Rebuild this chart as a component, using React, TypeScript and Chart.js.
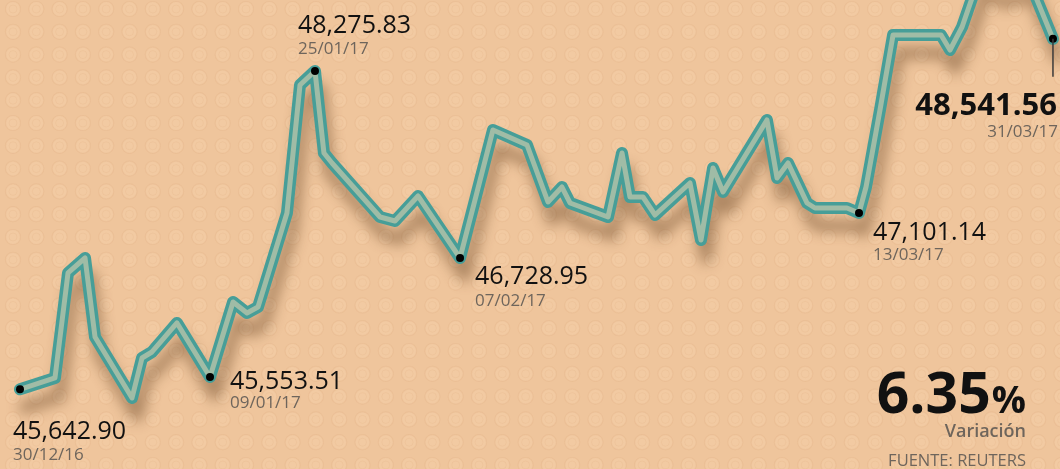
import React, { useEffect, useRef } from "react";
import { Chart, registerables } from "chart.js";

Chart.register(...registerables);

// Days since 30/12/16 and index level
const dayOffsets = [
  0, 3.08, 4.23, 5.73, 6.61, 9.87, 10.75, 11.63, 13.83, 16.74,
  18.77, 20.0, 20.97, 23.52, 24.67, 25.99, 26.78, 27.49, 31.72, 33.04,
  35.07, 38.77, 40.09, 41.67, 44.67, 46.52, 47.75, 48.46, 51.81, 53.04,
  53.74, 54.89, 55.95, 59.03, 60.0, 61.06, 61.94, 65.81, 66.7, 67.67,
  69.34, 70.04, 72.86, 73.92, 74.54, 75.77, 76.92, 81.15, 81.94, 83.0,
  84.58, 86.34, 88.81, 91.01,
];
const indexValues = [
  45642.9, 45736.3, 46604.9, 46728.9, 46075.4, 45570.9, 45901.7, 45951.4, 46191.3, 45744.6,
  46365.0, 46274.0, 46323.6, 47101.2, 48160.0, 48275.83, 47597.5, 47514.8, 47068.1, 47035.0,
  47241.8, 46728.95, 47208.7, 47787.8, 47663.7, 47192.2, 47316.2, 47183.9, 47068.1, 47597.5,
  47233.5, 47233.5, 47084.6, 47349.3, 46877.8, 47473.4, 47274.9, 47870.5, 47390.7, 47514.8,
  47183.9, 47142.5, 47142.5, 47101.14, 47316.2, 47953.2, 48573.6, 48573.6, 48449.5, 48639.8,
  49069.9, 48987.2, 49045.1, 48541.56,
];

// Annotated points
const labelIndices = [0, 9, 15, 21, 43, 53];
const labelValues = ["45,642.90", "45,553.51", "48,275.83", "46,728.95", "47,101.14", "48,541.56"];
const labelDates = ["30/12/16", "09/01/17", "25/01/17", "07/02/17", "13/03/17", "31/03/17"];
const variationValue = "6.35";
const variationUnit = "%";
const variationLabel = "Variación";
const sourceText = "FUENTE: REUTERS";

// Layout of annotation text relative to the point (dx, dyValue, dyDate, align, bold)
const labelLayout = [
  { dx: -7, dv: 50, dd: 71, align: "left", bold: false },
  { dx: 20, dv: 12, dd: 31, align: "left", bold: false },
  { dx: -17, dv: -38, dd: -17, align: "left", bold: false },
  { dx: 15, dv: 26, dd: 48, align: "left", bold: false },
  { dx: 14, dv: 27, dd: 47, align: "left", bold: false },
  { dx: 4, dv: 76, dd: 98, align: "right", bold: true },
];

const FONT = "'Open Sans', 'Noto Sans', sans-serif";
const BG = "#EFC59C";
const TEAL = "#479E98";
const SAGE = "#A0BCA6";
const GREY = "#6E655C";

const points = dayOffsets.map((d, i) => ({ x: d, y: indexValues[i] }));
const labelPoints = labelIndices.map((i) => ({ x: dayOffsets[i], y: indexValues[i] }));

const backgroundPlugin = {
  id: "bgPattern",
  beforeDraw(chart: any) {
    const { ctx, width, height } = chart;
    ctx.save();
    ctx.fillStyle = BG;
    ctx.fillRect(0, 0, width, height);
    const sx = 23.3;
    const sy = 22.8;
    for (let y = 9; y < height + sy; y += sy) {
      for (let x = 13; x < width + sx; x += sx) {
        ctx.beginPath();
        ctx.arc(x, y, 7.5, 0, Math.PI * 2);
        ctx.fillStyle = "rgba(255,224,190,0.2)";
        ctx.fill();
        ctx.lineWidth = 1.2;
        ctx.strokeStyle = "rgba(205,150,98,0.13)";
        ctx.stroke();
        ctx.beginPath();
        ctx.arc(x, y, 4, 0, Math.PI * 2);
        ctx.lineWidth = 1;
        ctx.strokeStyle = "rgba(205,150,98,0.1)";
        ctx.stroke();
      }
    }
    ctx.restore();
  },
};

const shadowPlugin = {
  id: "lineShadow",
  beforeDatasetDraw(chart: any, args: any) {
    if (chart.data.datasets[args.index].label === "outer") {
      const ctx = chart.ctx;
      ctx.save();
      ctx.shadowColor = "rgba(95,60,28,0.45)";
      ctx.shadowBlur = 13;
      ctx.shadowOffsetX = 5;
      ctx.shadowOffsetY = 18;
    }
  },
  afterDatasetDraw(chart: any, args: any) {
    if (chart.data.datasets[args.index].label === "outer") {
      chart.ctx.restore();
    }
  },
};

const labelsPlugin = {
  id: "annotations",
  afterDraw(chart: any) {
    const { ctx, scales } = chart;
    const xs = scales.x;
    const ys = scales.y;
    ctx.save();
    ctx.textBaseline = "alphabetic";
    labelIndices.forEach((idx, k) => {
      const px = xs.getPixelForValue(dayOffsets[idx]);
      const py = ys.getPixelForValue(indexValues[idx]);
      const lay = labelLayout[k];
      ctx.textAlign = lay.align;
      if (lay.bold) {
        ctx.strokeStyle = "#3a3a3a";
        ctx.lineWidth = 1.5;
        ctx.beginPath();
        ctx.moveTo(px, py);
        ctx.lineTo(px, py + 38);
        ctx.stroke();
      }
      ctx.fillStyle = "#111111";
      ctx.font = lay.bold ? `700 31px ${FONT}` : `400 25px ${FONT}`;
      ctx.fillText(labelValues[k], px + lay.dx, py + lay.dv);
      ctx.fillStyle = GREY;
      ctx.font = `400 17px ${FONT}`;
      ctx.fillText(labelDates[k], px + lay.dx + (lay.bold ? 1 : 0), py + lay.dd);
    });
    // Variation block
    const right = 1026;
    ctx.textAlign = "right";
    ctx.fillStyle = "#111111";
    ctx.font = `700 38px ${FONT}`;
    const unitW = ctx.measureText(variationUnit).width;
    ctx.fillText(variationUnit, right, 413);
    ctx.font = `700 57px ${FONT}`;
    ctx.fillText(variationValue, right - unitW - 1, 413);
    ctx.fillStyle = GREY;
    ctx.font = `600 18px ${FONT}`;
    ctx.fillText(variationLabel, right, 437);
    ctx.font = `400 16.5px ${FONT}`;
    ctx.fillText(sourceText, right, 466);
    ctx.restore();
  },
};

export default function App() {
  const ref = useRef<HTMLCanvasElement | null>(null);

  useEffect(() => {
    document.body.style.margin = "0";
    document.body.style.background = BG;
    const canvas = ref.current;
    if (!canvas) return;
    const chart = new Chart(canvas, {
      type: "line",
      data: {
        datasets: [
          {
            label: "dots",
            data: labelPoints,
            showLine: false,
            pointRadius: 4,
            pointBackgroundColor: "#000000",
            pointBorderWidth: 0,
            order: 0,
          } as any,
          {
            label: "inner",
            data: points,
            borderColor: SAGE,
            borderWidth: 5,
            pointRadius: 0,
            tension: 0,
            borderJoinStyle: "round",
            borderCapStyle: "round",
            order: 1,
          } as any,
          {
            label: "outer",
            data: points,
            borderColor: TEAL,
            borderWidth: 12,
            pointRadius: 0,
            tension: 0,
            borderJoinStyle: "round",
            borderCapStyle: "round",
            order: 2,
          } as any,
        ],
      },
      options: {
        responsive: false,
        animation: false,
        layout: { padding: 0, autoPadding: false },
        plugins: {
          legend: { display: false },
          tooltip: { enabled: false },
        },
        events: [],
        scales: {
          x: { type: "linear", min: -1.762, max: 91.63, display: false },
          y: { type: "linear", min: 44983.5, max: 48863.1, display: false },
        },
      },
      plugins: [backgroundPlugin, shadowPlugin, labelsPlugin],
    });
    return () => chart.destroy();
  }, []);

  return (
    <div style={{ position: "fixed", left: 0, top: 0, width: 1060, height: 469 }}>
      <canvas ref={ref} width={1060} height={469} style={{ display: "block" }} />
    </div>
  );
}
